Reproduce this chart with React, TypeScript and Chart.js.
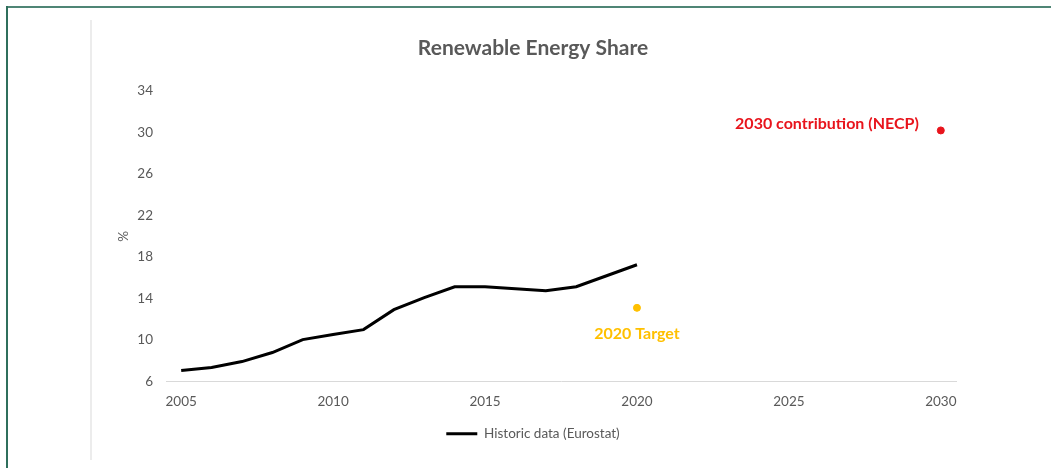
import React, { useEffect, useRef } from "react";
import { Chart, registerables } from "chart.js";

Chart.register(...registerables);

// ---- data ----
const chartTitle = "Renewable Energy Share";
const yAxisTitle = "%";
const historicYears = [2005, 2006, 2007, 2008, 2009, 2010, 2011, 2012, 2013, 2014, 2015, 2016, 2017, 2018, 2019, 2020];
const historicValues = [7.06, 7.35, 7.92, 8.79, 10.04, 10.52, 11.0, 12.92, 14.08, 15.13, 15.13, 14.94, 14.75, 15.13, 16.19, 17.25];
const targetYears = [2020];
const targetValues = [13.1];
const necpYears = [2030];
const necpValues = [30.2];
const seriesLabels = ["Historic data (Eurostat)", "2020 Target", "2030 contribution (NECP)"];
const xTickValues = [2005, 2010, 2015, 2020, 2025, 2030];
const yMin = 6;
const yMax = 34;
const yStep = 4;
const xMin = 2004.5;
const xMax = 2030.5;

const GRAY = "#595959";
const GOLD = "#ffc000";
const RED = "#e8141c";
const FONT = "Lato, 'Open Sans', sans-serif";

const pointLabelPlugin = {
  id: "pointLabels",
  afterDatasetsDraw(chart: any) {
    const { ctx, scales } = chart;
    const x = scales.x;
    const y = scales.y;
    ctx.save();
    ctx.font = `bold 16px ${FONT}`;
    ctx.textBaseline = "middle";
    ctx.fillStyle = GOLD;
    ctx.textAlign = "center";
    ctx.fillText(seriesLabels[1], x.getPixelForValue(targetYears[0]), y.getPixelForValue(targetValues[0]) + 26);
    ctx.fillStyle = RED;
    ctx.textAlign = "right";
    ctx.fillText(seriesLabels[2], x.getPixelForValue(necpYears[0]) - 22, y.getPixelForValue(necpValues[0]) - 7);
    ctx.restore();
  },
};

export default function App() {
  const ref = useRef<HTMLCanvasElement | null>(null);

  useEffect(() => {
    if (!ref.current) return;
    const chart = new Chart(ref.current, {
      type: "line",
      data: {
        datasets: [
          {
            label: seriesLabels[0],
            data: historicYears.map((yr, i) => ({ x: yr, y: historicValues[i] })),
            borderColor: "#000000",
            backgroundColor: "#000000",
            borderWidth: 3,
            pointRadius: 0,
            tension: 0,
          },
          {
            label: seriesLabels[1],
            data: targetYears.map((yr, i) => ({ x: yr, y: targetValues[i] })),
            showLine: false,
            pointRadius: 3.5,
            pointBackgroundColor: GOLD,
            pointBorderColor: GOLD,
            borderColor: GOLD,
            backgroundColor: GOLD,
          },
          {
            label: seriesLabels[2],
            data: necpYears.map((yr, i) => ({ x: yr, y: necpValues[i] })),
            showLine: false,
            pointRadius: 3.5,
            pointBackgroundColor: RED,
            pointBorderColor: RED,
            borderColor: RED,
            backgroundColor: RED,
          },
        ],
      },
      options: {
        responsive: false,
        animation: false,
        layout: { padding: { left: 0, right: 0, top: 0, bottom: 9.5 } },
        scales: {
          x: {
            type: "linear",
            min: xMin,
            max: xMax,
            afterBuildTicks: (scale: any) => {
              scale.ticks = xTickValues.map((v) => ({ value: v }));
            },
            afterFit: (scale: any) => {
              scale.height = 35.5;
            },
            ticks: {
              callback: (v: any) => String(v),
              color: GRAY,
              font: { family: FONT, size: 13.5 },
              padding: 12,
              maxRotation: 0,
              autoSkip: false,
            },
            grid: { display: false, drawTicks: false },
            border: { display: true, color: "#d9d9d9", width: 1 },
          },
          y: {
            type: "linear",
            min: yMin,
            max: yMax,
            afterFit: (scale: any) => {
              scale.width = 74;
            },
            ticks: {
              stepSize: yStep,
              color: GRAY,
              font: { family: FONT, size: 13.5 },
              padding: 13,
            },
            grid: { display: false, drawTicks: false },
            border: { display: false },
            title: {
              display: true,
              text: yAxisTitle,
              color: GRAY,
              font: { family: FONT, size: 13.5 },
              padding: { top: 24, bottom: 0 },
            },
          },
          yRight: {
            type: "linear",
            position: "right",
            display: true,
            min: yMin,
            max: yMax,
            afterFit: (scale: any) => {
              scale.width = 18;
            },
            ticks: { display: false },
            grid: { display: false, drawTicks: false },
            border: { display: false },
          },
        },
        plugins: {
          title: {
            display: true,
            text: chartTitle,
            color: GRAY,
            font: { family: FONT, size: 21, weight: "bold" },
            padding: { top: 15.4, bottom: 30.4 },
          },
          legend: {
            display: true,
            position: "bottom",
            labels: {
              boxWidth: 31,
              boxHeight: 3,
              color: GRAY,
              font: { family: FONT, size: 13.5 },
              padding: 10,
              generateLabels: (c: any) =>
                Chart.defaults.plugins.legend.labels
                  .generateLabels(c)
                  .filter((l: any) => l.datasetIndex === 0)
                  .map((l: any) => ({ ...l, lineWidth: 0, fillStyle: "#000000" })),
            },
          },
          tooltip: { enabled: false },
        },
      } as any,
      plugins: [pointLabelPlugin],
    });
    return () => chart.destroy();
  }, []);

  return (
    <div style={{ position: "fixed", left: 0, top: 0, width: 1051, height: 468, background: "#ffffff", overflow: "hidden" }}>
      <div style={{ position: "absolute", left: 6, top: 6, width: 1045, height: 2, background: "#4f8575" }} />
      <div style={{ position: "absolute", left: 6, top: 6, width: 2, height: 462, background: "#2f6f5c" }} />
      <div style={{ position: "absolute", left: 90, top: 20, width: 2, height: 440, background: "#ececec" }} />
      <canvas ref={ref} width={882} height={440} style={{ position: "absolute", left: 92, top: 20 }} />
    </div>
  );
}
